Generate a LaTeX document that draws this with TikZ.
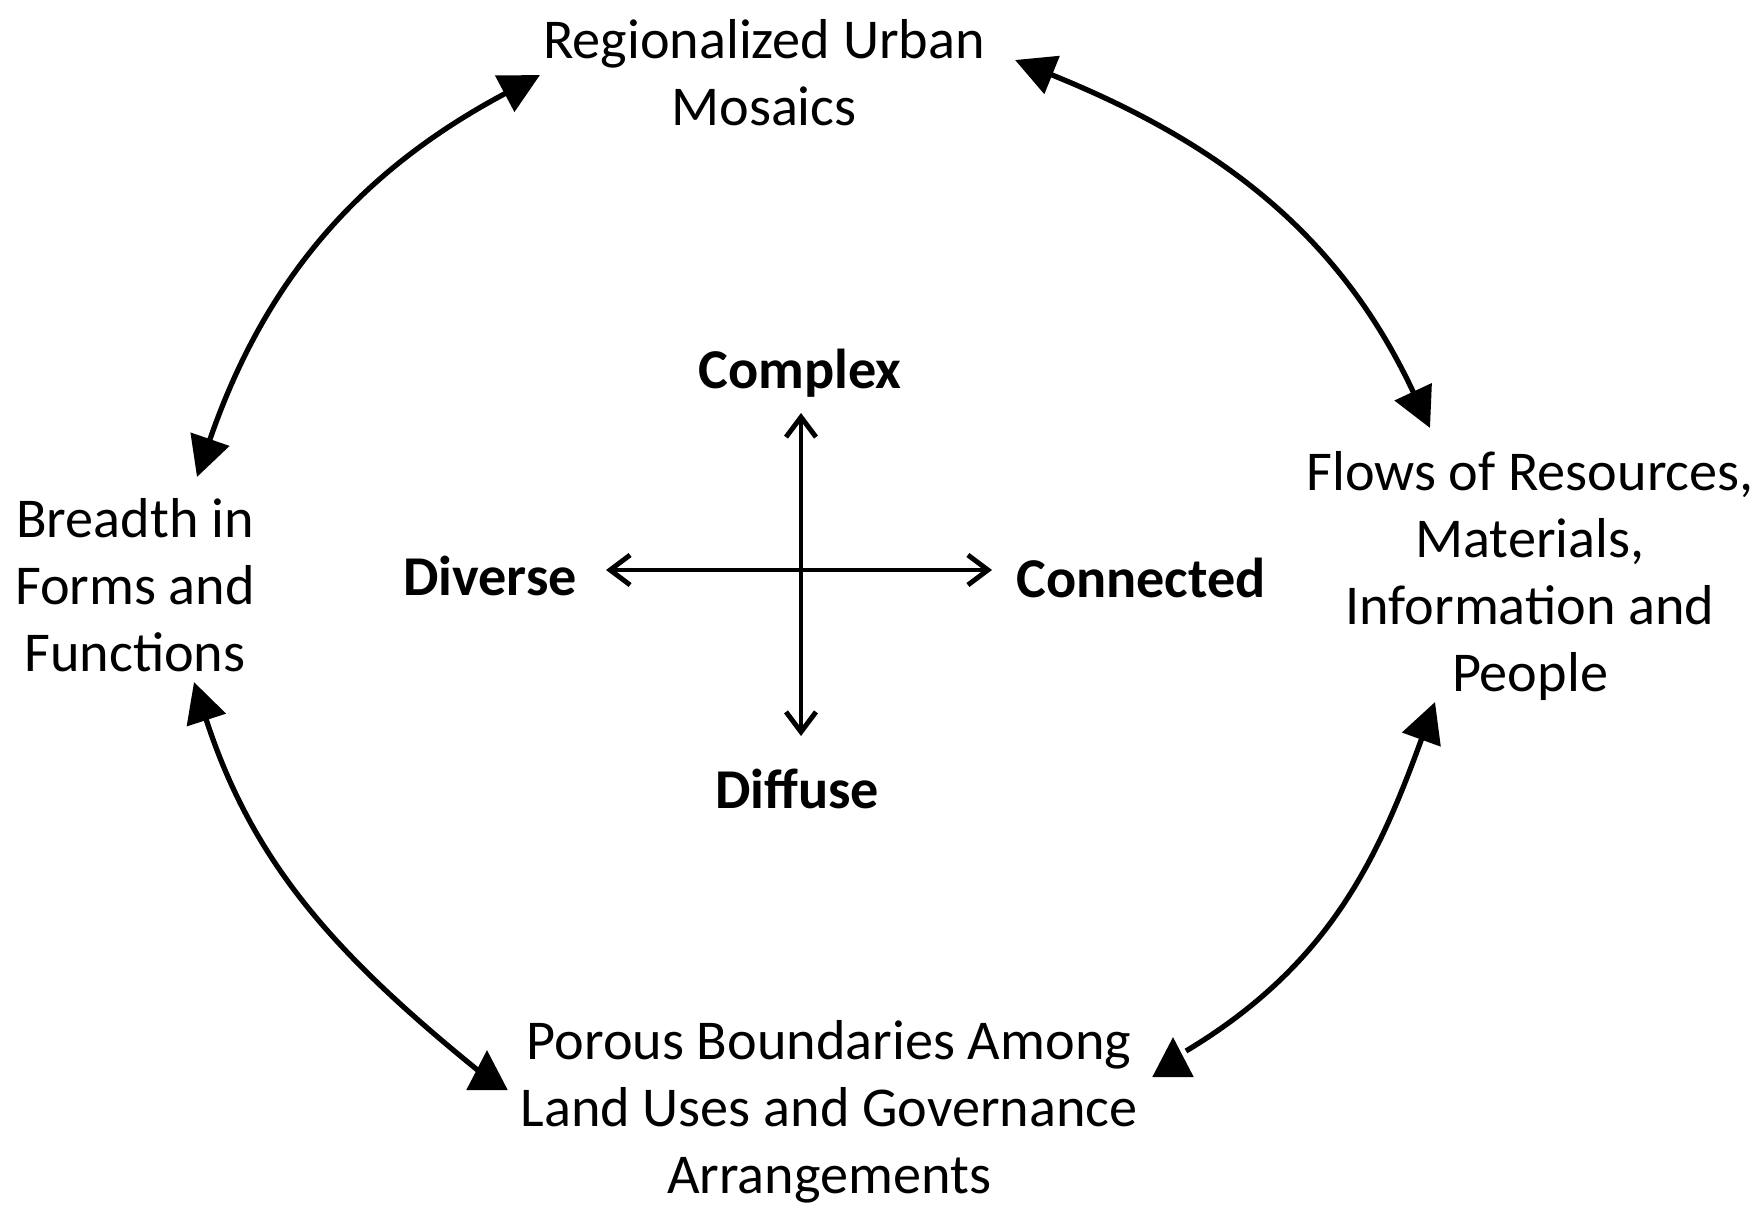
\documentclass[tikz,border=0pt]{standalone}
\usepackage{fontspec}
\setmainfont{Carlito}
\usetikzlibrary{arrows.meta,calc}
\tikzset{
    lbl/.style={align=center, font=\fontsize{16}{19}\selectfont},
    core/.style={font=\fontsize{16}{19}\selectfont\bfseries},
    bighead/.tip={Triangle[length=0.4cm,width=0.4cm]},
    barb/.tip={Straight Barb[length=0.2cm,width=0.3cm]},
    cycle arrow/.style={line width=1.5pt},
    axis arrow/.style={barb-barb, line width=1.4pt}
}
\begin{document}
\begin{tikzpicture}
                \useasboundingbox (0,0) rectangle (17.61,12.17);
                % outer labels
                \node[lbl] (mosaic) at (7.64,11.44) {Regionalized Urban\\Mosaics};
                \node[lbl] (breadth) at (1.35,6.32) {Breadth in\\Forms and\\Functions};
                \node[lbl] (flows) at (15.30,6.41) {Flows of Resources,\\Materials,\\Information and\\People};
                \node[lbl] (porous) at (8.29,1.05) {Porous Boundaries Among\\Land Uses and Governance\\Arrangements};
                % inner labels
                \node[core] (complex) at (8.00,8.44) {Complex};
                \node[core] (diffuse) at (7.97,4.28) {Diffuse};
                \node[core] (diverse) at (4.90,6.41) {Diverse};
                \node[core] (connected) at (11.41,6.39) {Connected};
                % arrow tips
                \coordinate (A) at (1.97,7.40);
                \coordinate (B) at (5.40,11.42);
                \coordinate (C) at (10.15,11.57);
                \coordinate (D) at (14.30,7.89);
                \coordinate (E) at (1.94,5.35);
                \coordinate (F) at (4.80,1.45);
                \coordinate (Ft) at (4.87,1.67);
                \coordinate (G) at (14.35,5.15);
                \coordinate (H) at (11.86,1.66);
                \coordinate (Ht) at (11.73,1.80);
                \coordinate (N) at (8.01,8.04);
                \coordinate (S) at (8.01,4.81);
                \coordinate (W) at (6.06,6.47);
                \coordinate (X) at (9.92,6.47);
                \draw[cycle arrow, bighead-bighead] (A) to[out=71, in=208] (B);
                \draw[cycle arrow, bighead-bighead] (C) to[out=-22, in=115] (D);
                \draw[cycle arrow, bighead-] (E) to[out=-72, in=141] (F);
                \draw[cycle arrow, bighead-] (G) to[out=-110, in=31] (H);
                % upright heads at the lower ends
                \draw[cycle arrow, -bighead] ($(Ft)+(0,-0.4)$) -- (Ft);
                \draw[cycle arrow, -bighead] ($(Ht)+(0,-0.4)$) -- (Ht);
                \draw[axis arrow] (N) -- (S);
                \draw[axis arrow] (W) -- (X);
            \end{tikzpicture}
\end{document}
